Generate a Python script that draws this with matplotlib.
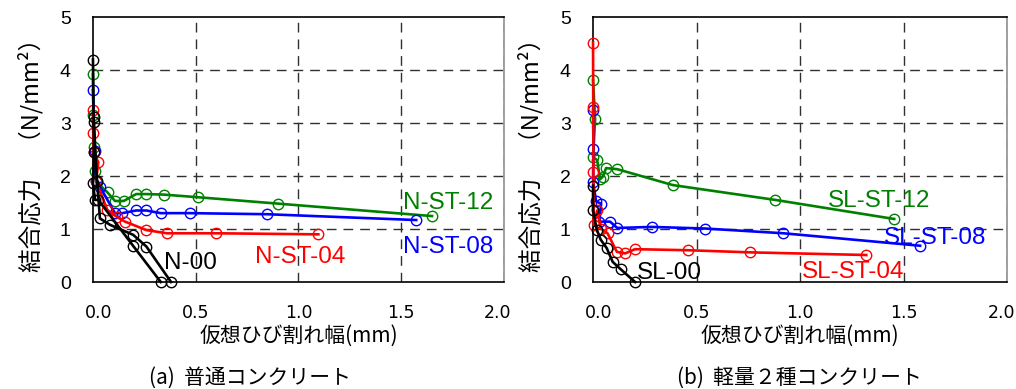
import numpy as np
import matplotlib
matplotlib.use('Agg')
import matplotlib.pyplot as plt
from matplotlib import font_manager
from matplotlib.transforms import ScaledTranslation

# フォント
plt.rcParams['font.family'] = ['Liberation Sans', 'Noto Sans CJK JP', 'DejaVu Sans']
JP = ['Noto Sans CJK JP', 'DejaVu Sans']
names = set(f.name for f in font_manager.fontManager.ttflist)
NARROW = ['Liberation Sans Narrow'] if 'Liberation Sans Narrow' in names else ['DejaVu Sans Condensed', 'DejaVu Sans']

# (a) 普通コンクリート
n_st12_x = [0.0, 0.002, 0.005, 0.008, 0.02, 0.071, 0.107, 0.15, 0.21, 0.26, 0.345, 0.512, 0.90, 1.65]
n_st12_y = [3.92, 3.15, 2.55, 2.09, 1.88, 1.69, 1.53, 1.53, 1.66, 1.66, 1.65, 1.60, 1.48, 1.245]
n_st08_x = [0.0, 0.008, 0.015, 0.034, 0.107, 0.143, 0.21, 0.26, 0.33, 0.47, 0.845, 1.573]
n_st08_y = [3.62, 2.47, 1.90, 1.80, 1.30, 1.30, 1.35, 1.35, 1.30, 1.30, 1.28, 1.17]
n_st04_x = [0.0, 0.001, 0.004, 0.026, 0.015, 0.07, 0.116, 0.156, 0.26, 0.36, 0.60, 1.097]
n_st04_y = [3.25, 2.82, 2.45, 2.26, 1.90, 1.36, 1.23, 1.14, 0.98, 0.92, 0.92, 0.90]
n_00a_x = [0.0, 0.003, 0.02, 0.034, 0.083, 0.196, 0.26, 0.38]
n_00a_y = [4.20, 3.12, 1.90, 1.20, 1.08, 0.89, 0.67, 0.0]
n_00b_x = [0.003, 0.005, 0.0, 0.01, 0.026, 0.196, 0.33]
n_00b_y = [3.02, 2.45, 1.86, 1.55, 1.55, 0.68, 0.0]

# (b) 軽量2種コンクリート
sl_st12_x = [0.0, 0.01, 0.0, 0.02, 0.034, 0.047, 0.063, 0.117, 0.385, 0.88, 1.455]
sl_st12_y = [3.81, 3.07, 2.36, 2.30, 1.94, 1.99, 2.15, 2.13, 1.83, 1.55, 1.19]
sl_st08_x = [0.0, 0.002, 0.0, 0.015, 0.039, 0.031, 0.082, 0.117, 0.283, 0.541, 0.92, 1.58]
sl_st08_y = [3.25, 2.52, 1.89, 1.52, 1.48, 1.14, 1.14, 1.02, 1.04, 1.01, 0.92, 0.685]
sl_st04_x = [0.0, 0.001, 0.002, 0.003, 0.02, 0.04, 0.07, 0.115, 0.155, 0.203, 0.46, 0.758, 1.32]
sl_st04_y = [4.52, 3.31, 2.08, 1.08, 1.35, 1.00, 0.92, 0.57, 0.54, 0.62, 0.60, 0.56, 0.51]
sl_00_x = [0.0, 0.0, 0.018, 0.037, 0.066, 0.095, 0.134, 0.203]
sl_00_y = [1.82, 1.35, 0.99, 0.80, 0.64, 0.38, 0.24, 0.0]

GREEN = '#008000'
BLUE = '#0000ff'
RED = '#ff0000'
BLACK = '#000000'

x_ticks = [0.0, 0.5, 1.0, 1.5, 2.0]
y_ticks = [0, 1, 2, 3, 4, 5]


def draw_series(ax, x, y, c):
    ax.plot(x, y, '-o', color=c, lw=1.9, ms=7.5, mfc='none', mec=c, mew=1.0, clip_on=False, zorder=3)


def setup_axes(ax, xlabel):
    ax.set_xlim(0, 2.0)
    ax.set_ylim(0, 5)
    ax.set_xticks(x_ticks)
    ax.set_yticks(y_ticks)
    ax.set_xticklabels(['%.1f' % v for v in x_ticks], family=NARROW, fontsize=12.5)
    ax.set_yticklabels([str(v) for v in y_ticks], fontsize=14)
    ax.tick_params(length=0, pad=16)
    ax.tick_params(axis='x', pad=16)
    # 端のラベルは少し内側へ
    labs = ax.get_xticklabels()
    labs[0].set_transform(labs[0].get_transform() + ScaledTranslation(6 / 100, 0, fig.dpi_scale_trans))
    labs[-1].set_transform(labs[-1].get_transform() + ScaledTranslation(-6 / 100, 0, fig.dpi_scale_trans))
    # グリッド
    for v in x_ticks[1:]:
        ax.axvline(v, color='#303030', lw=1.0, ls=(0, (7, 5)), zorder=1)
    for v in y_ticks[1:-1]:
        ax.axhline(v, color='#303030', lw=1.0, ls=(0, (7, 5)), zorder=1)
    for s in ['left', 'bottom', 'top']:
        ax.spines[s].set_color('black')
        ax.spines[s].set_linewidth(1.2)
    ax.spines['right'].set_color('#909090')
    ax.spines['right'].set_linewidth(1.2)
    ax.set_ylabel('結合応力　（N/mm²）', family=JP, fontsize=17, labelpad=12)
    ax.set_xlabel(xlabel, family=JP, fontsize=15, labelpad=2)


fig = plt.figure(figsize=(10.16, 3.89), dpi=100)
ax1 = fig.add_axes([0.0915, 0.275, 0.4045, 0.681])
ax2 = fig.add_axes([0.5837, 0.275, 0.4075, 0.681])

# 左 (a)
draw_series(ax1, n_st12_x, n_st12_y, GREEN)
draw_series(ax1, n_st08_x, n_st08_y, BLUE)
draw_series(ax1, n_st04_x, n_st04_y, RED)
draw_series(ax1, n_00a_x, n_00a_y, BLACK)
draw_series(ax1, n_00b_x, n_00b_y, BLACK)
setup_axes(ax1, '仮想ひび割れ幅(mm)')
ax1.text(1.51, 1.49, 'N-ST-12', color=GREEN, fontsize=17.5, va='center', zorder=4)
ax1.text(1.51, 0.66, 'N-ST-08', color=BLUE, fontsize=17.5, va='center', zorder=4)
ax1.text(0.79, 0.47, 'N-ST-04', color=RED, fontsize=17.5, va='center', zorder=4)
ax1.text(0.345, 0.36, 'N-00', color=BLACK, fontsize=17.5, va='center', zorder=4)

# 右 (b)
draw_series(ax2, sl_st12_x, sl_st12_y, GREEN)
draw_series(ax2, sl_st08_x, sl_st08_y, BLUE)
draw_series(ax2, sl_st04_x, sl_st04_y, RED)
draw_series(ax2, sl_00_x, sl_00_y, BLACK)
setup_axes(ax2, '仮想ひび割れ幅(mm)')
ax2.text(1.135, 1.53, 'SL-ST-12', color=GREEN, fontsize=17.5, va='center', zorder=4)
ax2.text(1.405, 0.83, 'SL-ST-08', color=BLUE, fontsize=17.5, va='center', zorder=4)
ax2.text(1.01, 0.19, 'SL-ST-04', color=RED, fontsize=17.5, va='center', zorder=4)
ax2.text(0.21, 0.17, 'SL-00', color=BLACK, fontsize=17.5, va='center', zorder=4)

# 図のタイトル
fig.text(0.246, 0.03, '(a)  普通コンクリート', family=JP, fontsize=15, ha='center', va='center')
fig.text(0.787, 0.03, '(b)  軽量２種コンクリート', family=JP, fontsize=15, ha='center', va='center')

plt.savefig('out.png', dpi=100)
